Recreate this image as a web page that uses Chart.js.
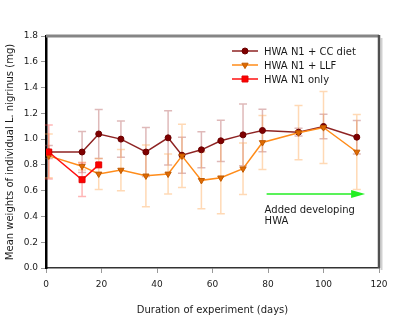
<!DOCTYPE html>
<html>
<head>
<meta charset="utf-8">
<script src="https://cdn.jsdelivr.net/npm/chart.js@4/dist/chart.umd.min.js"></script>
<style>
  html, body { margin: 0; padding: 0; background: #fff; }
  #wrap { width: 400px; height: 320px; }
</style>
</head>
<body>
<div id="wrap"><canvas id="chart" width="400" height="320"></canvas></div>
<script>
//#region ***  Data                                     ***********
const ccDays = [1, 13, 19, 27, 36, 44, 49, 56, 63, 71, 78, 91, 100, 112];
const ccMean = [0.90, 0.90, 1.04, 1.00, 0.90, 1.01, 0.875, 0.917, 0.987, 1.033, 1.067, 1.054, 1.098, 1.015];
const ccErr = [0.05, 0.16, 0.19, 0.14, 0.19, 0.21, 0.14, 0.14, 0.16, 0.24, 0.165, 0.03, 0.095, 0.13];

const llfDays = [1, 13, 19, 27, 36, 44, 49, 56, 63, 71, 78, 91, 100, 112];
const llfMean = [0.87, 0.79, 0.73, 0.76, 0.715, 0.73, 0.87, 0.68, 0.70, 0.77, 0.974, 1.05, 1.09, 0.90];
const llfErr = [0.17, 0.03, 0.12, 0.16, 0.24, 0.155, 0.245, 0.22, 0.28, 0.2, 0.21, 0.21, 0.28, 0.29];

const onlyDays = [1, 13, 19];
const onlyMean = [0.90, 0.685, 0.80];
const onlyErr = [0.21, 0.13, 0];

const seriesNames = ["HWA N1 + CC diet", "HWA N1 + LLF", "HWA N1 only"];
const xTicks = [0, 20, 40, 60, 80, 100, 120];
const yTicks = [0.0, 0.2, 0.4, 0.6, 0.8, 1.0, 1.2, 1.4, 1.6, 1.8];

// arrow annotation: from day, to day, at value
const arrowFrom = 79.5;
const arrowTo = 115;
const arrowAt = 0.574;
const arrowText = ["Added developing", "HWA"];
//#endregion

const font = "'DejaVu Sans', Verdana, sans-serif";
const textColor = "#1a1a1a";

const toPoints = function (days, vals) {
  return days.map((d, i) => ({ x: d, y: vals[i] }));
};

const drawMarker = function (ctx, ds, x, y) {
  ctx.fillStyle = ds.pointBackgroundColor;
  ctx.strokeStyle = ds.pointBorderColor;
  ctx.lineWidth = ds.pointBorderWidth;
  Chart.helpers.drawPoint(ctx, {
    pointStyle: ds.pointStyle,
    radius: ds.pointRadius,
    rotation: ds.pointRotation || 0,
    borderWidth: ds.pointBorderWidth,
  }, x, y);
};

//#region ***  Plugins                                  ***********
const errorBars = {
  id: "errorBars",
  beforeDatasetsDraw(chart) {
    const ctx = chart.ctx;
    const xs = chart.scales.x;
    const ys = chart.scales.y;
    const sets = [
      { days: ccDays, mean: ccMean, err: ccErr, color: "rgba(175, 80, 80, 0.4)" },
      { days: llfDays, mean: llfMean, err: llfErr, color: "rgba(255, 160, 70, 0.4)" },
      { days: onlyDays, mean: onlyMean, err: onlyErr, color: "rgba(255, 70, 70, 0.4)" },
    ];
    ctx.save();
    ctx.lineWidth = 1.5;
    sets.forEach((s) => {
      ctx.strokeStyle = s.color;
      s.days.forEach((d, i) => {
        if (!s.err[i]) return;
        const px = xs.getPixelForValue(d);
        const top = ys.getPixelForValue(s.mean[i] + s.err[i]);
        const bot = ys.getPixelForValue(s.mean[i] - s.err[i]);
        ctx.beginPath();
        ctx.moveTo(px, top);
        ctx.lineTo(px, bot);
        ctx.moveTo(px - 4, top);
        ctx.lineTo(px + 4, top);
        ctx.moveTo(px - 4, bot);
        ctx.lineTo(px + 4, bot);
        ctx.stroke();
      });
    });
    ctx.restore();
  },
};

const frameAndNotes = {
  id: "frameAndNotes",
  afterDraw(chart) {
    const ctx = chart.ctx;
    const a = chart.chartArea;
    const xs = chart.scales.x;
    const ys = chart.scales.y;
    ctx.save();
    // top and right frame
    ctx.strokeStyle = "#d0d0d0";
    ctx.lineWidth = 2;
    ctx.beginPath();
    ctx.moveTo(a.right + 2.5, a.top + 2);
    ctx.lineTo(a.right + 2.5, a.bottom + 2);
    ctx.stroke();
    ctx.strokeStyle = "#858585";
    ctx.lineWidth = 3;
    ctx.beginPath();
    ctx.moveTo(a.left, a.top);
    ctx.lineTo(a.right, a.top);
    ctx.stroke();
    ctx.strokeStyle = "#505050";
    ctx.lineWidth = 2.5;
    ctx.beginPath();
    ctx.moveTo(a.right, a.top - 1);
    ctx.lineTo(a.right, a.bottom);
    ctx.stroke();

    // legend
    const lx = 232;
    const rows = [51, 65, 79];
    chart.data.datasets.forEach((ds, i) => {
      const y = rows[i];
      ctx.strokeStyle = ds.borderColor;
      ctx.lineWidth = 1.5;
      ctx.beginPath();
      ctx.moveTo(lx, y);
      ctx.lineTo(lx + 26, y);
      ctx.stroke();
      drawMarker(ctx, ds, lx + 13, y);
      ctx.fillStyle = textColor;
      ctx.font = "10px " + font;
      ctx.textBaseline = "middle";
      ctx.textAlign = "left";
      ctx.fillText(seriesNames[i], lx + 32, y + 1);
    });

    // arrow
    const x1 = xs.getPixelForValue(arrowFrom);
    const x2 = xs.getPixelForValue(arrowTo);
    const ay = ys.getPixelForValue(arrowAt);
    ctx.strokeStyle = "#22ee22";
    ctx.fillStyle = "#22ee22";
    ctx.lineWidth = 1.5;
    ctx.beginPath();
    ctx.moveTo(x1, ay);
    ctx.lineTo(x2 - 8, ay);
    ctx.stroke();
    ctx.beginPath();
    ctx.moveTo(x2, ay);
    ctx.lineTo(x2 - 14, ay - 4);
    ctx.lineTo(x2 - 14, ay + 4);
    ctx.closePath();
    ctx.fill();
    ctx.fillStyle = textColor;
    ctx.font = "10px " + font;
    ctx.textAlign = "left";
    ctx.textBaseline = "middle";
    ctx.fillText(arrowText[0], x1 - 2, ay + 16);
    ctx.fillText(arrowText[1], x1 - 2, ay + 27);
    ctx.restore();
  },
};
//#endregion

//#region ***  Chart                                    ***********
const init = function () {
  const htmlCanvas = document.querySelector("#chart");
  new Chart(htmlCanvas, {
    type: "line",
    data: {
      datasets: [
        {
          label: seriesNames[0],
          data: toPoints(ccDays, ccMean),
          borderColor: "#8e2323",
          borderWidth: 1.5,
          pointStyle: "circle",
          pointRadius: 3,
          pointBorderWidth: 1,
          pointBackgroundColor: "#800000",
          pointBorderColor: "#6a0000",
          order: 3,
        },
        {
          label: seriesNames[1],
          data: toPoints(llfDays, llfMean),
          borderColor: "#ff8c1a",
          borderWidth: 1.5,
          pointStyle: "triangle",
          pointRotation: 180,
          pointRadius: 3.6,
          pointBorderWidth: 1,
          pointBackgroundColor: "#e06a00",
          pointBorderColor: "#c05a00",
          order: 2,
        },
        {
          label: seriesNames[2],
          data: toPoints(onlyDays, onlyMean),
          borderColor: "#ff1010",
          borderWidth: 1.5,
          pointStyle: "rect",
          pointRadius: 4.2,
          pointBorderWidth: 1,
          pointBackgroundColor: "#ff0000",
          pointBorderColor: "#e00000",
          order: 1,
        },
      ],
    },
    options: {
      responsive: false,
      animation: false,
      layout: { padding: { top: 36, right: 21, left: 0, bottom: 0 } },
      plugins: {
        legend: { display: false },
        tooltip: { enabled: false },
      },
      scales: {
        x: {
          type: "linear",
          min: 0,
          max: 120,
          afterBuildTicks: (s) => { s.ticks = xTicks.map((v) => ({ value: v })); },
          afterFit: (s) => { s.height = 52; },
          border: { color: "#333", width: 1.5 },
          grid: { drawOnChartArea: false, tickLength: 5, color: "#999" },
          ticks: { color: textColor, font: { family: font, size: 9 }, padding: 6 },
          title: {
            display: true,
            text: "Duration of experiment (days)",
            color: textColor,
            font: { family: font, size: 10 },
            padding: { top: 14 },
          },
        },
        y: {
          min: 0,
          max: 1.8,
          afterBuildTicks: (s) => { s.ticks = yTicks.map((v) => ({ value: v })); },
          afterFit: (s) => { s.width = 46; },
          border: { color: "#000", width: 2.5 },
          grid: { drawOnChartArea: false, tickLength: 5, color: "#999" },
          ticks: {
            color: textColor,
            font: { family: font, size: 9 },
            padding: 3,
            callback: (v) => Number(v).toFixed(1),
          },
          title: {
            display: true,
            text: "Mean weights of individual L. nigrinus (mg)",
            color: textColor,
            font: { family: font, size: 10 },
            padding: { bottom: 1 },
          },
        },
      },
    },
    plugins: [errorBars, frameAndNotes],
  });
};

document.addEventListener("DOMContentLoaded", init);
//#endregion
</script>
</body>
</html>
